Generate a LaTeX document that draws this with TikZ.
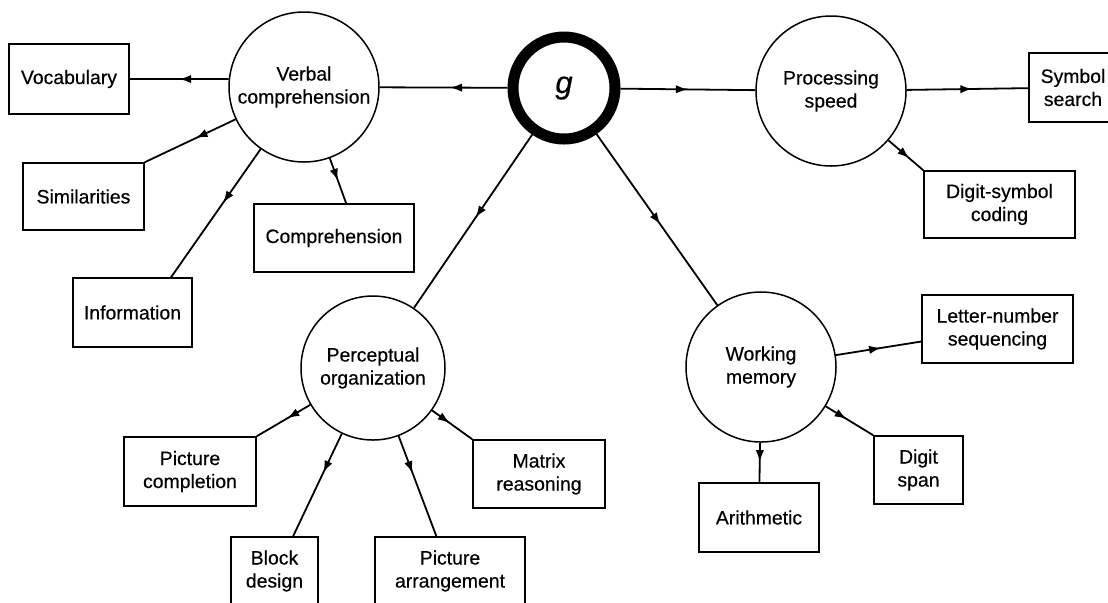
\documentclass[tikz,border=0pt]{standalone}
\usepackage{fontspec}
\setmainfont{Liberation Sans}[FakeBold=0.4]
\usetikzlibrary{arrows.meta,decorations.markings,calc}
\begin{document}
\begin{tikzpicture}[x=0.5pt,y=-0.5pt,
  txt/.style={font=\fontsize{9.7}{11.5}\selectfont, align=center, inner sep=0pt},
  factor/.style={txt, circle, draw, line width=0.75pt, minimum size=#1},
  factor/.default=75pt,
  gnode/.style={circle, draw, line width=5.5pt, minimum size=51pt, inner sep=0pt,
    font=\fontsize{15.5}{18}\selectfont\itshape},
  testbox/.style 2 args={txt, rectangle, draw, line width=0.8pt,
    minimum width=#1, minimum height=#2},
  link/.style={line width=0.9pt, postaction={decorate},
    decoration={markings, mark=at position #1 with {\arrow{Latex[length=6pt,width=4.2pt]}}}},
  link/.default=0.5
]
\useasboundingbox (0,0) rectangle (1108,602);
\clip (0,0) rectangle (1108,602);

% factors
\node[gnode] (g) at (564,88) {g};
\node[factor] (vc) at (304,87) {Verbal\\comprehension};
\node[factor] (ps) at (831,91) {Processing\\speed};
\node[factor=72pt] (po) at (373,368) {Perceptual\\organization};
\node[factor] (wm) at (761,367) {Working\\memory};

% subtests
\node[testbox={60pt}{35pt}] (voc) at (69,79) {Vocabulary};
\node[testbox={60.5pt}{33.5pt}] (sim) at (83.5,196.5) {Similarities};
\node[testbox={80pt}{34pt}] (comp) at (334,238) {Comprehension};
\node[testbox={59.5pt}{34.5pt}] (info) at (132.5,312.5) {Information};
\node[testbox={44pt}{34.5pt}] (sym) at (1073,87.5) {Symbol\\search};
\node[testbox={75.5pt}{33.5pt}] (dsc) at (999.5,204.5) {Digit-symbol\\coding};
\node[testbox={75.5pt}{34pt}] (ln) at (997.5,329) {Letter-number\\sequencing};
\node[testbox={44.5pt}{34pt}] (ds) at (918.5,470) {Digit\\span};
\node[testbox={60pt}{34.5pt}] (ar) at (759,517.5) {Arithmetic};
\node[testbox={66pt}{34.5pt}] (pc) at (190,471.5) {Picture\\completion};
\node[testbox={43.5pt}{34pt}] (bd) at (274.5,571) {Block\\design};
\node[testbox={75pt}{34pt}] (pa) at (450,571) {Picture\\arrangement};
\node[testbox={66pt}{34pt}] (mr) at (539,474) {Matrix\\reasoning};

% connectors from g
\draw[link=0.45] (g) -- (vc);
\draw[link=0.5] (g) -- (ps);
\draw[link=0.48] (g) -- (po);
\draw[link=0.53] (g) -- (wm);

% verbal comprehension
\draw[link=0.5] (vc.174) -- (voc.east);
\draw[link=0.44] (vc) -- (sim.north east);
\draw[link=0.42] (vc) -- ($(info.north east)!0.18!(info.north west)$);
\draw[link=0.5] (vc) -- ($(comp.north west)!0.575!(comp.north east)$);

% processing speed
\draw[link=0.54] (ps) -- (sym);
\draw[link=0.6] (ps) -- (dsc.north west);

% perceptual organization
\draw[link=0.43] (po) -- (pc.north east);
\draw[link=0.38] (po) -- ($(bd.north west)!0.71!(bd.north east)$);
\draw[link=0.37] (po) -- ($(pa.north west)!0.41!(pa.north east)$);
\draw[link=0.44] (po) -- (mr.north west);

% working memory
\draw[link=0.53] (wm) -- ($(ln.south west)!0.32!(ln.north west)$);
\draw[link=0.44] (wm) -- (ds.north west);
\draw[link=0.49] (wm) -- (ar);
\end{tikzpicture}
\end{document}
